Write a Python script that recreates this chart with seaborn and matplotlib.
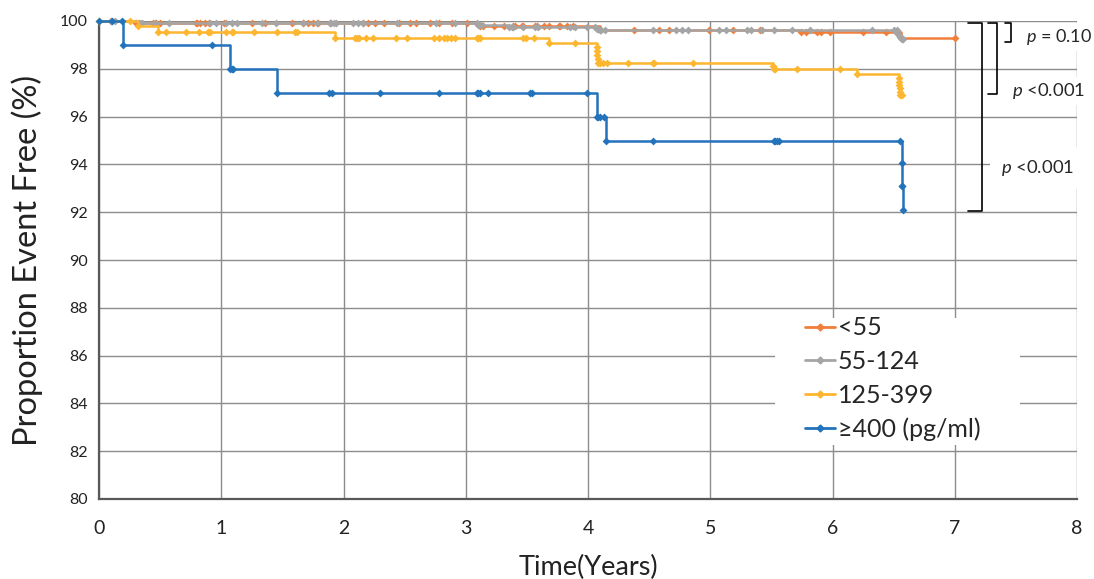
import numpy as np
import pandas as pd
import matplotlib
matplotlib.use("Agg")
import matplotlib.pyplot as plt
import seaborn as sns
from matplotlib.lines import Line2D
from matplotlib.patches import Rectangle

# ---------------- data ----------------
groups = ["<55", "55-124", "125-399", "≥400 (pg/ml)"]
colors = ["#F07F3C", "#A5A5A5", "#FDB62F", "#2272BC"]

# <55
o_evt_t = [0.30, 3.12, 4.10, 5.74, 6.56]
o_evt_s = [99.90, 99.80, 99.62, 99.55, 99.27]
o_cens_t = [0.10, 0.33, 0.44, 0.47, 0.50, 0.79, 0.80, 0.83, 0.87, 0.90, 1.02, 1.25, 1.36,
            1.58, 1.67, 1.71, 1.75, 1.79, 1.89, 2.16, 2.20, 2.26, 2.33, 2.45, 2.54, 2.59,
            2.71, 2.78, 2.89, 3.01, 3.14, 3.23, 3.31, 3.39, 3.47, 3.57, 3.40, 3.46, 3.58,
            3.64, 3.68, 3.76, 3.77, 3.83, 3.88, 4.38, 4.58, 4.66, 4.99, 5.19, 5.41, 5.78,
            5.87, 5.91, 5.98, 6.25, 6.44, 7.00]
o_end = 7.00

# 55-124
g_evt_t = [0.35, 1.90, 3.10, 3.35, 4.07, 4.10, 6.53, 6.545, 6.555, 6.565]
g_evt_s = [99.93, 99.90, 99.85, 99.75, 99.68, 99.62, 99.50, 99.40, 99.32, 99.25]
g_cens_t = [0.10, 0.13, 0.46, 0.57, 0.91, 0.96, 1.04, 1.09, 1.13, 1.33, 1.45, 1.67, 1.78,
            1.89, 1.92, 1.94, 2.08, 2.12, 2.16, 2.44, 2.76, 2.91, 3.09, 3.11, 3.13, 3.39,
            3.47, 3.57, 3.38, 3.59, 3.85, 3.89, 3.99, 4.06, 4.08, 4.11, 4.14, 4.53, 4.72,
            4.77, 4.82, 5.07, 5.13, 5.30, 5.33, 5.42, 5.52, 5.67, 5.82, 6.32, 6.50, 6.525,
            6.57, 6.58]
g_end = 6.58

# 125-399
y_evt_t = [0.32, 0.48, 1.93, 3.68, 4.070, 4.073, 4.076, 4.079, 4.082, 5.515, 5.52,
           6.20, 6.540, 6.543, 6.546, 6.549, 6.552, 6.555]
y_evt_s = [99.80, 99.53, 99.30, 99.10, 98.93, 98.76, 98.58, 98.41, 98.23, 98.10, 97.98,
           97.78, 97.60, 97.46, 97.32, 97.18, 97.04, 96.90]
y_cens_t = [0.00, 0.25, 0.55, 0.71, 0.82, 0.89, 0.91, 1.04, 1.09, 1.10, 1.27, 1.46, 1.60,
            1.62, 2.09, 2.11, 2.13, 2.18, 2.24, 2.43, 2.52, 2.74, 2.78, 2.82, 2.85, 2.88,
            2.91, 3.09, 3.10, 3.12, 3.47, 3.49, 3.56, 3.89, 4.10, 4.12, 4.155, 4.33, 4.53,
            4.54, 4.86, 5.53, 5.71, 6.06, 6.57]
y_end = 6.57

# >=400
b_evt_t = [0.20, 1.07, 1.46, 4.07, 4.15, 6.565, 6.57, 6.575]
b_evt_s = [99.0, 98.0, 97.0, 96.0, 95.0, 94.05, 93.1, 92.1]
b_cens_t = [0.00, 0.11, 0.19, 0.925, 1.09, 1.10, 1.88, 1.905, 2.30, 2.78, 3.09, 3.10,
            3.12, 3.18, 3.525, 3.54, 3.99, 4.08, 4.10, 4.13, 4.53, 5.52, 5.53, 5.55,
            5.56, 6.55, 6.572]
b_end = 6.58

series = [
    (o_evt_t, o_evt_s, o_cens_t, o_end),
    (g_evt_t, g_evt_s, g_cens_t, g_end),
    (y_evt_t, y_evt_s, y_cens_t, y_end),
    (b_evt_t, b_evt_s, b_cens_t, b_end),
]


def surv_at(t, evt_t, evt_s):
    i = np.searchsorted(np.asarray(evt_t), t, side="right")
    return 100.0 if i == 0 else evt_s[i - 1]


line_rows, pt_rows = [], []
for g, (et, es, ct, end) in zip(groups, series):
    xs = [0.0] + list(et) + [end]
    ys = [100.0] + list(es) + [es[-1]]
    for x, y in zip(xs, ys):
        line_rows.append({"t": x, "s": y, "group": g})
    for x, y in zip(et, es):
        pt_rows.append({"t": x, "s": y, "group": g})
    for x in ct:
        pt_rows.append({"t": x, "s": surv_at(x, et, es), "group": g})
lines_df = pd.DataFrame(line_rows)
pts_df = pd.DataFrame(pt_rows)

# ---------------- plot ----------------
sns.set_theme(style="white")
plt.rcParams["font.family"] = ["Lato", "DejaVu Sans"]
plt.rcParams["mathtext.fontset"] = "custom"
plt.rcParams["mathtext.it"] = "Lato:italic"
plt.rcParams["mathtext.rm"] = "Lato"

fig = plt.figure(figsize=(10.94, 5.79), dpi=100)
ax = fig.add_axes([99 / 1094, 1 - 499 / 579, 978 / 1094, 478 / 579])

palette = dict(zip(groups, colors))
for i, g in enumerate(groups):
    sub = lines_df[lines_df.group == g]
    sns.lineplot(data=sub, x="t", y="s", color=palette[g], estimator=None, sort=False,
                 drawstyle="steps-post", lw=1.8, ax=ax, legend=False, zorder=3 + i,
                 clip_on=False)
    sp = pts_df[pts_df.group == g]
    sns.scatterplot(data=sp, x="t", y="s", color=palette[g], marker="D", s=16,
                    linewidth=0, ax=ax, legend=False, zorder=3.5 + i, clip_on=False)

ax.set_xlim(0, 8)
ax.set_ylim(80, 100)
ax.set_xticks(range(0, 9))
ax.set_yticks(range(80, 101, 2))
ax.grid(True, color="#8c8c8c", lw=1)
ax.set_axisbelow(True)
for s in ["top", "right"]:
    ax.spines[s].set_visible(False)
for s in ["left", "bottom"]:
    ax.spines[s].set_color("#595959")
    ax.spines[s].set_linewidth(1.6)
ax.tick_params(axis="x", length=0, pad=15, labelsize=14, colors="#222222")
ax.tick_params(axis="y", length=0, pad=8, labelsize=11.5, colors="#222222")
ax.set_xlabel("Time(Years)", fontsize=19.5, labelpad=13, color="#222222")
ax.set_ylabel("Proportion Event Free (%)", fontsize=23.5, labelpad=12, color="#222222")

# white legend area covering gridlines
ax.add_patch(Rectangle((5.53, 82.26), 2.0, 5.31, facecolor="white", edgecolor="none",
                       zorder=9))
handles = [Line2D([0], [0], color=c, lw=2, marker="D", ms=3.5) for c in colors]
leg = ax.legend(handles, groups, loc="upper left", bbox_to_anchor=(0.7219, 0.382),
                fontsize=18, frameon=False, handlelength=1.2, handletextpad=0.12,
                labelspacing=0.43, borderpad=0, borderaxespad=0)
leg.set_zorder(10)

# significance brackets (outside plot area, right)
bk = dict(color="black", lw=1.2, clip_on=False, zorder=12)
for x0, x1, ybot in [(7.41, 7.46, 99.12), (7.27, 7.345, 96.96), (7.11, 7.22, 92.05)]:
    ax.plot([x0, x1, x1, x0], [99.93, 99.93, ybot, ybot], **bk)

tbox = dict(facecolor="white", edgecolor="none", pad=3)
ax.text(7.58, 99.33, r"$p$ = 0.10", fontsize=13, va="center", ha="left",
        clip_on=False, zorder=11, bbox=tbox)
ax.text(7.47, 97.07, r"$p$ <0.001", fontsize=13.3, va="center", ha="left",
        clip_on=False, zorder=11, bbox=tbox)
ax.text(7.38, 93.85, r"$p$ <0.001", fontsize=13.3, va="center", ha="left",
        clip_on=False, zorder=11, bbox=dict(facecolor="white", edgecolor="none", pad=8))

fig.savefig("out.png", dpi=100)
